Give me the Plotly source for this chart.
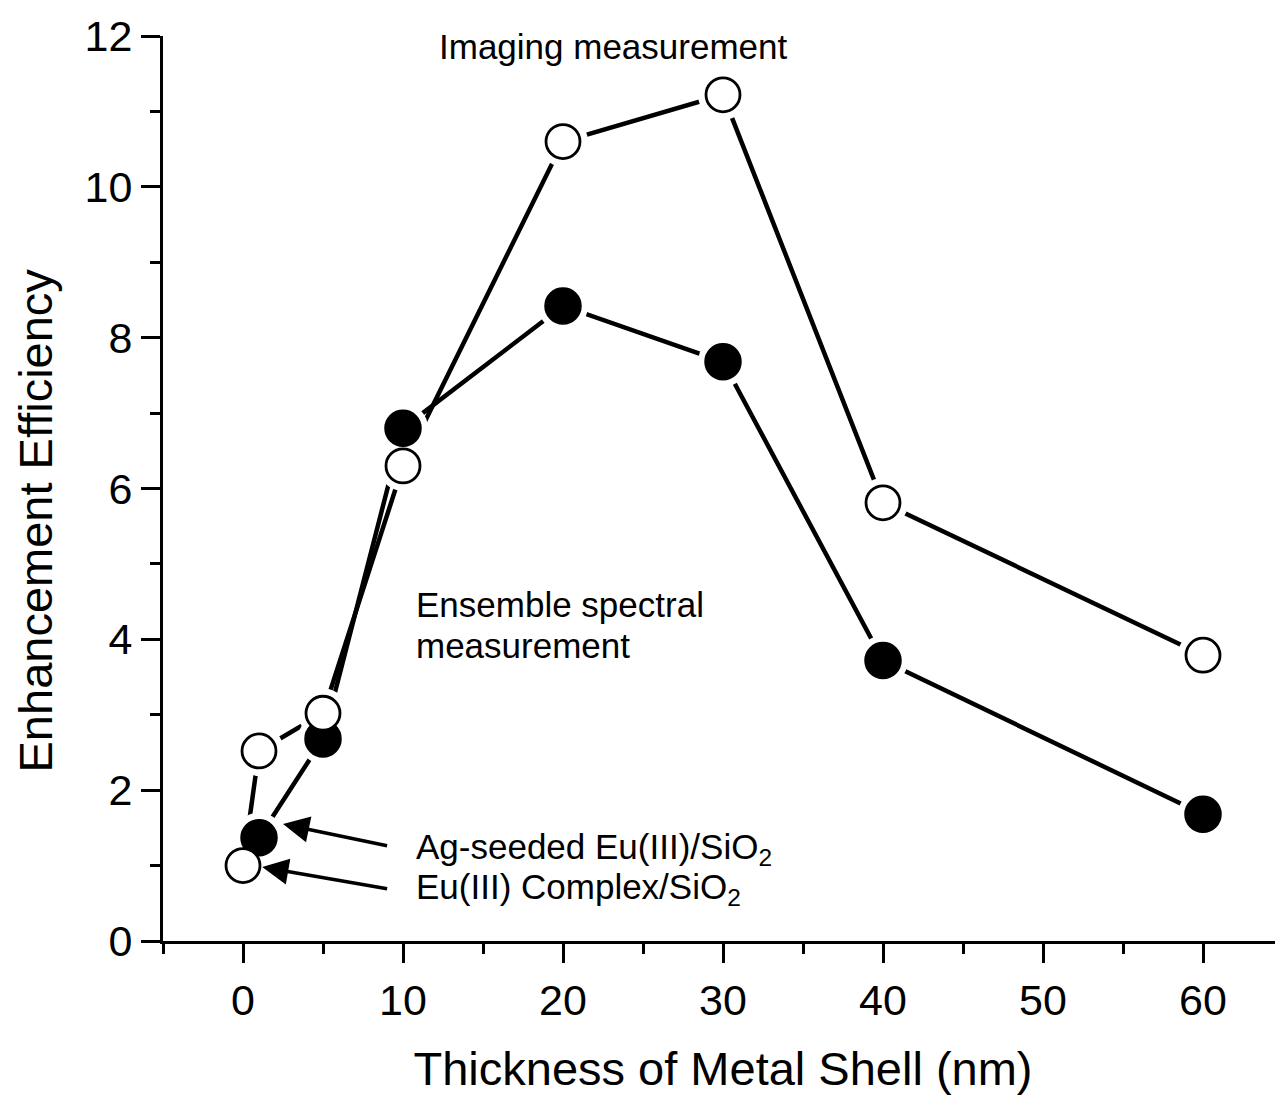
import plotly.graph_objects as go

# ---- data ----
x_open = [0, 1, 5, 10, 20, 30, 40, 60]
y_open = [1.0, 2.52, 3.02, 6.3, 10.6, 11.22, 5.81, 3.79]
x_filled = [1, 5, 10, 20, 30, 40, 60]
y_filled = [1.37, 2.68, 6.8, 8.42, 7.68, 3.72, 1.68]

x_title = "Thickness of Metal Shell (nm)"
y_title = "Enhancement Efficiency"

label_texts = ["Imaging measurement", "Ensemble spectral", "measurement",
               "Ag-seeded Eu(III)/SiO<sub>2</sub>", "Eu(III) Complex/SiO<sub>2</sub>"]
label_x = [23.1, 10.7, 10.7, 10.7, 10.7]
label_y = [11.86, 4.46, 3.92, 1.22, 0.69]
label_anchor = ["center", "left", "left", "left", "left"]

arrow_tip_x = [2.5, 1.2]
arrow_tip_y = [1.55, 0.98]
arrow_tail_x = [9.1, 9.1]
arrow_tail_y = [1.26, 0.69]

FONT = "Liberation Sans, Arial, Helvetica, sans-serif"

fig = go.Figure()
line_style = dict(color="black", width=4.5)
# lines
fig.add_trace(go.Scatter(x=x_filled, y=y_filled, mode="lines", line=line_style, hoverinfo="skip"))
fig.add_trace(go.Scatter(x=x_open, y=y_open, mode="lines", line=line_style, hoverinfo="skip"))
# white halos creating gaps around markers
halo = dict(size=50, color="white", line=dict(width=0))
fig.add_trace(go.Scatter(x=x_filled, y=y_filled, mode="markers", marker=halo, hoverinfo="skip"))
fig.add_trace(go.Scatter(x=x_open, y=y_open, mode="markers", marker=halo, hoverinfo="skip"))
# markers
fig.add_trace(go.Scatter(x=x_filled, y=y_filled, mode="markers",
                         marker=dict(size=36, color="black", line=dict(color="black", width=1.5))))
fig.add_trace(go.Scatter(x=x_open, y=y_open, mode="markers",
                         marker=dict(size=34, color="white", line=dict(color="black", width=2.8))))

annotations = []
for t, x, y, a in zip(label_texts, label_x, label_y, label_anchor):
    annotations.append(dict(x=x, y=y, xref="x", yref="y", text=t, showarrow=False,
                            xanchor=a, yanchor="middle",
                            font=dict(family=FONT, size=35, color="black")))
for tx, ty, ax, ay in zip(arrow_tip_x, arrow_tip_y, arrow_tail_x, arrow_tail_y):
    annotations.append(dict(x=tx, y=ty, xref="x", yref="y", ax=ax, ay=ay,
                            axref="x", ayref="y", text="", showarrow=True,
                            arrowhead=2, arrowsize=1.5, arrowwidth=3.5,
                            arrowcolor="black", standoff=0, startstandoff=0))
# y-axis title (placed slightly below axis centre, as in the original)
annotations.append(dict(x=-0.114, y=0.465, xref="paper", yref="paper", text=y_title,
                        textangle=-90, showarrow=False, xanchor="center", yanchor="middle",
                        font=dict(family=FONT, size=47, color="black")))

# page body has an 8px margin: shrink the figure so the plot area lands where the reference has it
fig.update_layout(
    width=1275, height=1092,
    margin=dict(l=155, r=0, t=28, b=159),
    paper_bgcolor="white", plot_bgcolor="white",
    showlegend=False,
    font=dict(family=FONT, color="black"),
    annotations=annotations,
)
fig.update_xaxes(
    range=[-5, 65], tickmode="linear", tick0=0, dtick=10,
    ticks="outside", ticklen=19, tickwidth=3, tickcolor="black",
    minor=dict(tick0=0, dtick=5, ticks="outside", ticklen=10, tickwidth=3, tickcolor="black"),
    showline=True, linewidth=3, linecolor="black",
    showgrid=False, zeroline=False,
    tickfont=dict(family=FONT, size=43, color="black"),
    title=dict(text=x_title, font=dict(family=FONT, size=47, color="black"), standoff=30),
)
fig.update_yaxes(
    range=[0, 12], tickmode="linear", tick0=0, dtick=2,
    ticks="outside", ticklen=19, tickwidth=3, tickcolor="black",
    minor=dict(tick0=0, dtick=1, ticks="outside", ticklen=10, tickwidth=3, tickcolor="black"),
    showline=True, linewidth=3, linecolor="black",
    showgrid=False, zeroline=False,
    tickfont=dict(family=FONT, size=43, color="black"),
)

fig.write_html("out.html")
